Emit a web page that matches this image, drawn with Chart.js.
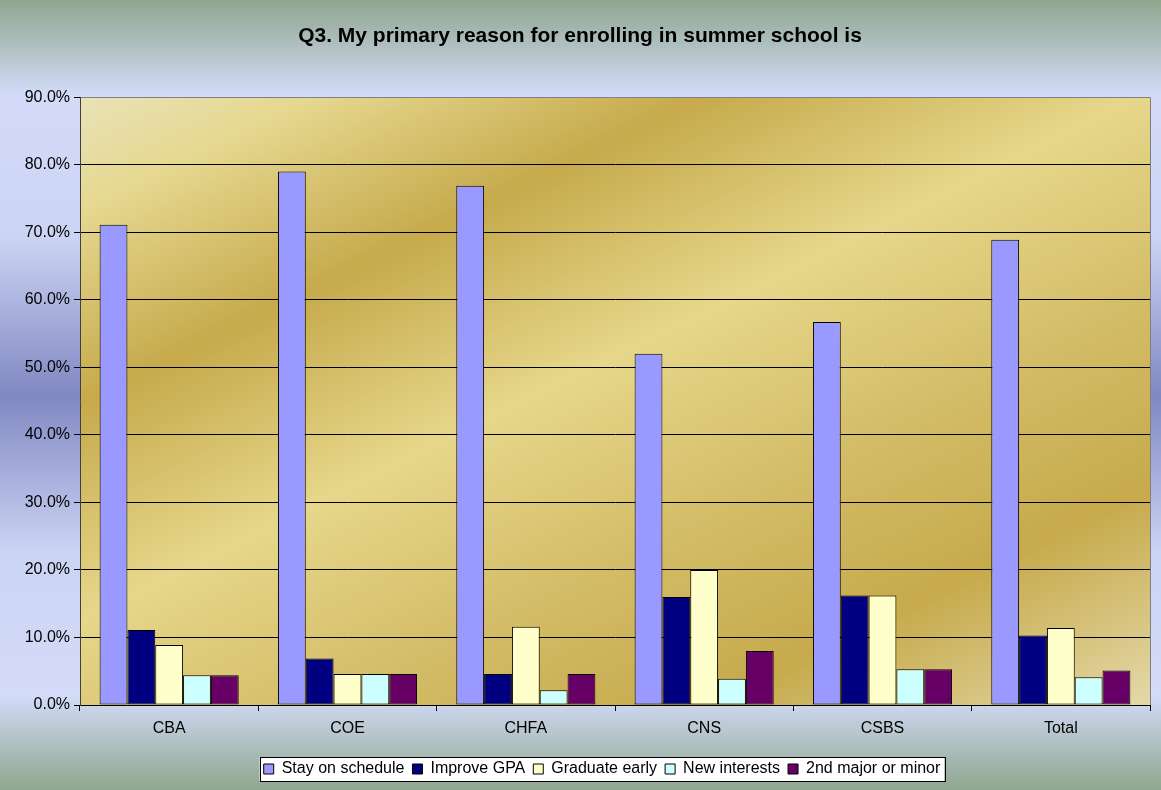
<!DOCTYPE html>
<html>
<head>
<meta charset="utf-8">
<title>Q3. My primary reason for enrolling in summer school is</title>
<script src="https://cdn.jsdelivr.net/npm/chart.js@4.4.0/dist/chart.umd.min.js"></script>
<style>
    html, body { margin: 0; padding: 0; background: #ffffff; }
    #chart-wrap { width: 1161px; height: 790px; }
</style>
</head>
<body>
<div id="chart-wrap"><canvas id="reason-chart" width="1161" height="790"></canvas></div>
<script>
const categories = ['CBA', 'COE', 'CHFA', 'CNS', 'CSBS', 'Total'];
const stayOnSchedule = [71.1, 79.0, 76.9, 52.0, 56.7, 68.9];
const improveGpa = [11.1, 6.9, 4.6, 16.0, 16.2, 10.3];
const graduateEarly = [8.9, 4.6, 11.6, 20.0, 16.2, 11.4];
const newInterests = [4.4, 4.6, 2.2, 3.9, 5.3, 4.1];
const secondMajor = [4.4, 4.6, 4.6, 8.0, 5.3, 5.1];
const yMax = 90;
const yStep = 10;

const fontFamily = '"Liberation Sans", Arial, sans-serif';
const legendShift = 22;

const backgroundPlugin = {
    id: 'backgrounds',
    afterUpdate(chart) {
        // the legend sits a little right of centre in the original
        const legend = chart.legend;
        if (legend) {
            legend.left += legendShift;
            legend.right += legendShift;
        }
    },
    beforeDraw(chart) {
        const { ctx, width, height, chartArea } = chart;
        ctx.save();

        // outer chart background
        const outer = ctx.createLinearGradient(0, 0, 0, height);
        outer.addColorStop(0, '#8fa68e');
        outer.addColorStop(0.12, '#d3dbf8');
        outer.addColorStop(0.3, '#ccd4f4');
        outer.addColorStop(0.5, '#8188c2');
        outer.addColorStop(0.7, '#ccd4f4');
        outer.addColorStop(0.88, '#d3dbf8');
        outer.addColorStop(1, '#8fa68e');
        ctx.fillStyle = outer;
        ctx.fillRect(0, 0, width, height);

        // plot area gold
        const w = chartArea.right - chartArea.left;
        const h = chartArea.bottom - chartArea.top;
        const gold = ctx.createLinearGradient(
            chartArea.left, chartArea.top,
            chartArea.left + 0.42 * w, chartArea.top + 1.5 * h
        );
        gold.addColorStop(0, '#e9e2b8');
        gold.addColorStop(0.1, '#e6d890');
        gold.addColorStop(0.27, '#c6aa4c');
        gold.addColorStop(0.46, '#e6d78a');
        gold.addColorStop(0.64, '#d4bd68');
        gold.addColorStop(0.81, '#c6aa4c');
        gold.addColorStop(1, '#e4d8a8');
        ctx.fillStyle = gold;
        ctx.fillRect(chartArea.left, chartArea.top, w, h);

        // legend frame, worked out the same way the legend lays out its row
        const legend = chart.legend;
        if (legend && legend.lineWidths && legend.legendHitBoxes.length) {
            const pad = legend.options.labels.padding;
            const rowWidth = legend.lineWidths[0];
            const rowLeft = (legend.left + legend.right + pad - rowWidth) / 2;
            const itemHeight = legend.legendHitBoxes[0].height;
            const left = rowLeft - 4;
            const right = rowLeft + rowWidth - pad + 4;
            const top = legend.top + pad - 4;
            const bottom = legend.top + pad + itemHeight + 4;
            ctx.fillStyle = '#ffffff';
            ctx.fillRect(left, top, right - left, bottom - top);
            ctx.strokeStyle = '#000000';
            ctx.lineWidth = 1;
            ctx.strokeRect(Math.round(left) + 0.5, Math.round(top) + 0.5, Math.round(right - left), Math.round(bottom - top));
        }
        ctx.restore();
    },
    afterDraw(chart) {
        const { ctx, chartArea } = chart;
        ctx.save();
        ctx.strokeStyle = '#808080';
        ctx.lineWidth = 1;
        ctx.beginPath();
        ctx.moveTo(Math.round(chartArea.right) + 0.5, chartArea.top);
        ctx.lineTo(Math.round(chartArea.right) + 0.5, chartArea.bottom);
        ctx.stroke();
        ctx.restore();
    }
};

const makeSeries = (label, data, color) => ({
    label,
    data,
    backgroundColor: color,
    borderColor: '#000000',
    borderWidth: 1,
    borderSkipped: false,
    categoryPercentage: 0.78,
    barPercentage: 1.0
});

const chart = new Chart(document.getElementById('reason-chart'), {
    type: 'bar',
    data: {
        labels: categories,
        datasets: [
            makeSeries('Stay on schedule', stayOnSchedule, '#9999ff'),
            makeSeries('Improve GPA', improveGpa, '#000080'),
            makeSeries('Graduate early', graduateEarly, '#ffffcc'),
            makeSeries('New interests', newInterests, '#ccffff'),
            makeSeries('2nd major or minor', secondMajor, '#660066')
        ]
    },
    options: {
        responsive: false,
        animation: false,
        layout: {
            padding: { left: 10, right: 11, top: 0, bottom: 3 }
        },
        plugins: {
            title: {
                display: true,
                text: 'Q3. My primary reason for enrolling in summer school is',
                color: '#000000',
                font: { family: fontFamily, size: 21, weight: 'bold' },
                padding: { top: 24, bottom: 48 }
            },
            legend: {
                position: 'bottom',
                labels: {
                    color: '#000000',
                    font: { family: fontFamily, size: 16 },
                    boxWidth: 10,
                    boxHeight: 10,
                    padding: 8
                }
            },
            tooltip: { enabled: false }
        },
        scales: {
            x: {
                grid: {
                    offset: true,
                    drawOnChartArea: false,
                    drawTicks: true,
                    tickLength: 6,
                    tickColor: '#000000'
                },
                border: { color: '#000000', width: 1 },
                ticks: {
                    color: '#000000',
                    font: { family: fontFamily, size: 16 },
                    padding: 8
                },
                afterFit: scale => { scale.height = 48; }
            },
            y: {
                min: 0,
                max: yMax,
                grid: {
                    color: context => (context.tick && context.tick.value === yMax ? '#808080' : '#000000'),
                    tickLength: 6,
                    tickColor: '#000000'
                },
                border: { color: '#404040', width: 1 },
                ticks: {
                    stepSize: yStep,
                    color: '#000000',
                    font: { family: fontFamily, size: 16 },
                    padding: 4,
                    callback: value => `${value.toFixed(1)}%`
                },
                afterFit: scale => { scale.width = 70; }
            }
        }
    },
    plugins: [backgroundPlugin]
});
</script>
</body>
</html>
